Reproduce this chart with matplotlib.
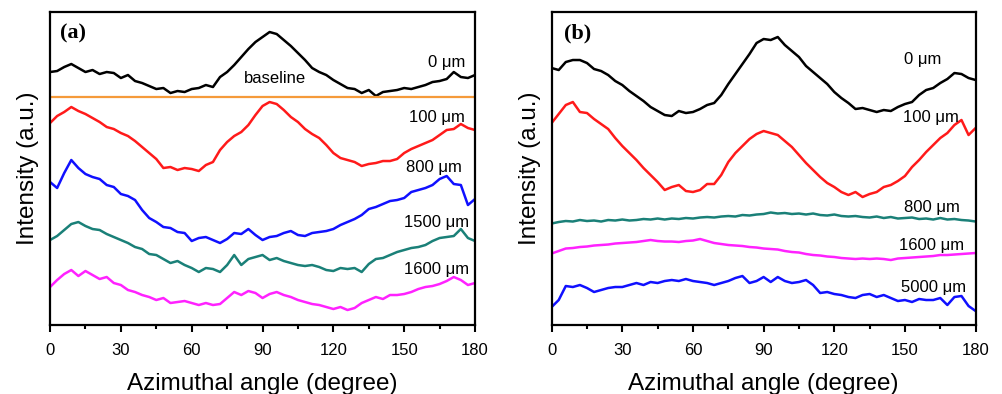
import numpy as np
from matplotlib import pyplot as plt
from matplotlib.ticker import MultipleLocator

# Azimuthal angle sampling (degrees), common to every curve
angle = np.arange(0, 181, 3)

# Panel (a) intensities, arbitrary units (offset stacked)
a_0um = [253, 254, 258, 261, 257, 253, 255, 251, 253, 252, 247, 250, 244, 242, 239, 236,
         237, 232, 234, 233, 236, 237, 240, 238, 248, 253, 260, 268, 276, 283, 288, 293,
         291, 285, 279, 272, 265, 257, 253, 250, 245, 241, 237, 236, 232, 235, 229, 233,
         234, 235, 237, 236, 238, 240, 243, 244, 246, 253, 248, 247, 250]
a_100um = [202, 209, 213, 218, 214, 211, 207, 203, 198, 196, 192, 189, 184, 178, 172, 166,
           157, 158, 155, 157, 156, 154, 160, 163, 175, 183, 189, 193, 200, 210, 219, 223,
           221, 215, 208, 203, 196, 191, 187, 180, 172, 167, 165, 163, 159, 161, 162, 164,
           164, 166, 172, 176, 179, 182, 185, 190, 195, 196, 201, 197, 195]
a_800um = [143, 137, 152, 165, 157, 151, 148, 146, 140, 138, 131, 129, 125, 115, 107, 103,
           98, 97, 93, 92, 84, 87, 88, 85, 82, 86, 92, 91, 96, 90, 85, 88,
           89, 92, 94, 90, 89, 92, 93, 94, 96, 100, 103, 106, 110, 116, 118, 121,
           124, 125, 127, 133, 135, 137, 140, 146, 149, 141, 140, 120, 126]
a_1500um = [85, 89, 95, 101, 103, 99, 96, 95, 91, 88, 85, 82, 78, 76, 71, 70,
            66, 62, 64, 60, 57, 53, 57, 56, 53, 60, 70, 60, 66, 68, 70, 65,
            67, 64, 62, 60, 59, 60, 58, 55, 54, 57, 56, 57, 53, 61, 66, 67,
            70, 73, 75, 77, 78, 80, 84, 87, 88, 89, 96, 87, 84]
a_1600um = [38, 45, 51, 55, 49, 54, 50, 46, 48, 42, 40, 35, 33, 30, 28, 25,
            27, 22, 23, 24, 22, 20, 22, 20, 21, 27, 33, 30, 34, 32, 27, 31,
            33, 30, 28, 25, 23, 21, 20, 18, 16, 18, 15, 17, 22, 25, 28, 26,
            30, 30, 31, 33, 36, 38, 39, 41, 44, 48, 45, 40, 42]
a_baseline = 228

# Panel (b) intensities
b_0um = [257, 255, 263, 265, 265, 262, 256, 254, 250, 244, 240, 234, 229, 224, 218, 214,
         210, 209, 214, 212, 213, 216, 220, 222, 230, 241, 251, 261, 271, 282, 286, 285,
         288, 280, 274, 268, 259, 253, 247, 241, 233, 227, 222, 216, 217, 215, 213, 215,
         214, 218, 221, 223, 230, 235, 237, 242, 246, 252, 251, 247, 245]
b_100um = [202, 211, 220, 223, 213, 212, 206, 201, 196, 187, 179, 172, 165, 157, 150, 143,
           135, 138, 140, 134, 133, 135, 141, 141, 150, 163, 172, 179, 186, 191, 194, 192,
           190, 184, 178, 170, 162, 155, 148, 142, 138, 133, 130, 133, 128, 131, 133, 138,
           140, 144, 149, 158, 165, 173, 180, 187, 192, 200, 205, 190, 197]
b_800um = [101.5, 103, 104, 103.5, 105, 104, 104.5, 103.5, 105, 104.5, 105.5, 104.5, 105, 106,
           105.5, 106.5, 105.5, 106.5, 106, 107, 106.5, 107.5, 108, 107.5, 108.5, 109, 108.5,
           110, 109.5, 110.5, 111, 112.5, 111.5, 112, 111, 111.5, 110.5, 111.5, 110, 109.5,
           110.5, 109, 108.5, 109, 108, 107.5, 108.5, 107, 108, 106.5, 107, 107.5, 106, 106.5,
           105.5, 107, 105.5, 106, 105, 104.5, 103.5]
b_1600um = [71.5, 74, 76.5, 77, 78, 78.5, 79.5, 80, 80.5, 81.5, 82, 82.5, 83, 84, 85, 84,
            83.5, 83.5, 83, 84, 84.5, 86, 84, 82, 81, 80, 79.5, 79, 78, 77.5, 76.5, 76,
            75.5, 74, 73, 72.5, 71, 70, 69.5, 68.5, 68, 67, 66.5, 66, 66.5, 66, 66.5, 66,
            65, 66.5, 67, 67.5, 68, 68.5, 69, 70, 70, 70.5, 71, 71.5, 72]
b_5000um = [18, 25, 39, 38, 40, 37, 33, 35, 37, 38, 38, 40, 42, 40, 43, 42,
            44, 45, 44, 46, 44, 43, 42, 40, 42, 44, 47, 49, 42, 44, 48, 43,
            48, 44, 42, 43, 45, 40, 32, 33, 31, 30, 28, 27, 30, 31, 28, 30,
            27, 24, 25, 23, 26, 25, 25, 27, 20, 28, 29, 19, 14]

RED = "#ff1a1a"
BLUE = "#1010ff"
TEAL = "#1a8078"
MAGENTA = "#ff22ff"
ORANGE = "#f59a3a"

plt.rcParams["font.family"] = ["Liberation Sans", "DejaVu Sans"]

fig = plt.figure(figsize=(10.03, 3.94), dpi=100)
ax_a = fig.add_axes([0.0499, 0.1751, 0.4237, 0.7944])
ax_b = fig.add_axes([0.5500, 0.1751, 0.4227, 0.7944])

lw = 1.8
ax_a.plot(angle, a_0um, color="black", lw=lw)
ax_a.axhline(a_baseline, color=ORANGE, lw=1.6)
ax_a.plot(angle, a_100um, color=RED, lw=lw)
ax_a.plot(angle, a_800um, color=BLUE, lw=lw)
ax_a.plot(angle, a_1500um, color=TEAL, lw=lw)
ax_a.plot(angle, a_1600um, color=MAGENTA, lw=lw)

ax_b.plot(angle, b_0um, color="black", lw=lw)
ax_b.plot(angle, b_100um, color=RED, lw=lw)
ax_b.plot(angle, b_800um, color=TEAL, lw=lw)
ax_b.plot(angle, b_1600um, color=MAGENTA, lw=lw)
ax_b.plot(angle, b_5000um, color=BLUE, lw=lw)

lbl = dict(fontsize=12, ha="center", va="center")
ax_a.text(168, 263, "0 μm", **lbl)
ax_a.text(95.3, 247, "baseline", **lbl)
ax_a.text(163.7, 208, "100 μm", **lbl)
ax_a.text(162.6, 158, "800 μm", **lbl)
ax_a.text(163.7, 103, "1500 μm", **lbl)
ax_a.text(163.7, 56, "1600 μm", **lbl)

ax_b.text(157.6, 266, "0 μm", **lbl)
ax_b.text(161, 208, "100 μm", **lbl)
ax_b.text(161.4, 118, "800 μm", **lbl)
ax_b.text(161.2, 80, "1600 μm", **lbl)
ax_b.text(162.3, 38, "5000 μm", **lbl)

for ax, tag, tx in [(ax_a, "(a)", 0.024), (ax_b, "(b)", 0.029)]:
    ax.set_xlim(0, 180)
    ax.set_ylim(0, 313)
    ax.set_yticks([])
    ax.xaxis.set_major_locator(MultipleLocator(30))
    ax.xaxis.set_minor_locator(MultipleLocator(15))
    ax.tick_params(axis="x", which="major", direction="out", length=5, width=1.5,
                   labelsize=12, pad=8)
    ax.tick_params(axis="x", which="minor", direction="out", length=3, width=1.5)
    for sp in ax.spines.values():
        sp.set_linewidth(1.6)
    ax.set_xlabel("Azimuthal angle (degree)", fontsize=17.5, labelpad=11)
    ax.set_ylabel("Intensity (a.u.)", fontsize=17.5, labelpad=8)
    ax.text(tx, 0.93, tag, transform=ax.transAxes, fontsize=16, fontweight="bold",
            family="Liberation Serif", ha="left", va="center")

fig.savefig("out.png", dpi=100)
